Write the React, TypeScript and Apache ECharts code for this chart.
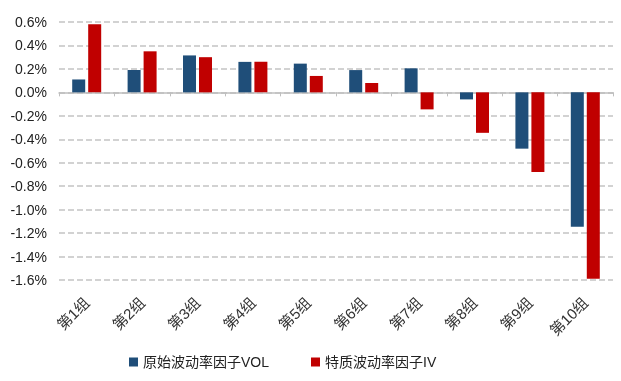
import React, { useEffect, useRef } from "react";
import * as echarts from "echarts";

const categories = ["第1组", "第2组", "第3组", "第4组", "第5组", "第6组", "第7组", "第8组", "第9组", "第10组"];
const volValues = [0.11, 0.19, 0.315, 0.26, 0.245, 0.19, 0.205, -0.06, -0.48, -1.145];
const ivValues = [0.58, 0.35, 0.30, 0.26, 0.14, 0.08, -0.145, -0.345, -0.68, -1.59];
const seriesNames = ["原始波动率因子VOL", "特质波动率因子IV"];

const FONT = "'Liberation Sans', Arial, 'Noto Sans CJK SC', sans-serif";

export default function App() {
  const ref = useRef<HTMLDivElement>(null);
  useEffect(() => {
    if (!ref.current) return;
    const chart = echarts.init(ref.current, undefined, { renderer: "svg" });
    chart.setOption({
      animation: false,
      grid: { left: 59, right: 8, top: 22, bottom: 101 },
      legend: {
        bottom: 7,
        left: 124,
        icon: "rect",
        itemWidth: 9,
        itemHeight: 9,
        itemGap: 42,
        textStyle: { fontSize: 14, color: "#222", fontFamily: FONT },
        data: seriesNames,
      },
      xAxis: [
        {
          type: "category",
          data: categories,
          axisLine: { onZero: true, lineStyle: { color: "#bfbfbf", width: 1.5 } },
          axisTick: { show: true, length: 4, lineStyle: { color: "#bfbfbf", width: 1 } },
          axisLabel: { show: false },
        },
        {
          type: "category",
          data: categories,
          position: "bottom",
          axisLine: { show: false, onZero: false },
          axisTick: { show: false },
          axisLabel: {
            rotate: 45,
            margin: 20,
            fontSize: 15,
            color: "#333",
            fontFamily: FONT,
          },
        },
      ],
      yAxis: {
        type: "value",
        min: -1.6,
        max: 0.6,
        interval: 0.2,
        axisLine: { show: false },
        axisTick: { show: false },
        axisLabel: {
          fontSize: 14,
          color: "#222",
          fontFamily: FONT,
          margin: 12,
          formatter: (v: number) => (Math.abs(v) < 1e-9 ? 0 : v).toFixed(1) + "%",
        },
        splitLine: { show: true, lineStyle: { color: "#c4c4c4", width: 1.5, type: [6, 3] } },
      },
      series: [
        {
          name: seriesNames[0],
          type: "bar",
          data: volValues,
          barWidth: 13,
          barGap: "23%",
          itemStyle: { color: "#1F4E79" },
        },
        {
          name: seriesNames[1],
          type: "bar",
          data: ivValues,
          barWidth: 13,
          itemStyle: { color: "#C00000" },
        },
      ],
    });
    return () => chart.dispose();
  }, []);
  return <div ref={ref} style={{ position: "fixed", left: 0, top: 0, width: 621, height: 381 }} />;
}
